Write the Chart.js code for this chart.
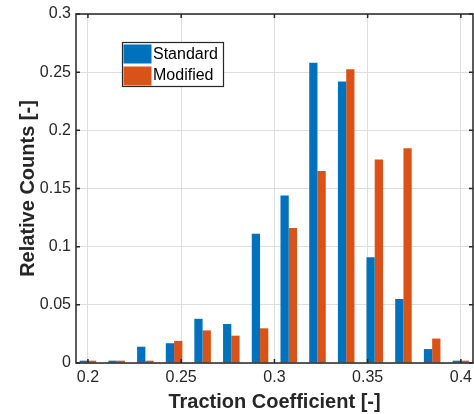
<!DOCTYPE html>
<html>
<head>
<meta charset="utf-8">
<script src="https://cdn.jsdelivr.net/npm/chart.js@4.4.1/dist/chart.umd.min.js"></script>
<style>
  html, body { margin: 0; padding: 0; background: #fff; }
  #wrap { position: relative; width: 474px; height: 414px; }
</style>
</head>
<body>
<div id="wrap"><canvas id="chart"></canvas></div>
<script>
// histogram bin centres (traction coefficient)
const binCenters = [0.2, 0.2154, 0.2308, 0.2462, 0.2615, 0.2769, 0.2923, 0.3077, 0.3231, 0.3385, 0.3538, 0.3692, 0.3846, 0.4];
const standardCounts = [0.002, 0.002, 0.014, 0.017, 0.038, 0.0335, 0.111, 0.144, 0.258, 0.242, 0.091, 0.055, 0.012, 0.002];
const modifiedCounts = [0.002, 0.002, 0.002, 0.019, 0.028, 0.0235, 0.0298, 0.116, 0.165, 0.2525, 0.175, 0.1845, 0.021, 0.002];
const seriesNames = ['Standard', 'Modified'];
const xTicks = [0.2, 0.25, 0.3, 0.35, 0.4];
const yTicks = [0, 0.05, 0.1, 0.15, 0.2, 0.25, 0.3];

const BLUE = '#0072BD';
const ORANGE = '#D95319';
const INK = '#262626';
const FONT = "'Liberation Sans', Arial, Helvetica, sans-serif";

// matlab style box, inward ticks and the boxed legend
const framePlugin = {
  id: 'frame',
  afterDatasetsDraw(chart) {
    const { ctx, chartArea: a, scales: { x, y } } = chart;
    ctx.save();
    ctx.strokeStyle = INK;
    ctx.lineWidth = 1.5;
    ctx.strokeRect(a.left, a.top, a.right - a.left, a.bottom - a.top);
    ctx.beginPath();
    xTicks.forEach(v => {
      const px = x.getPixelForValue(v);
      ctx.moveTo(px, a.bottom); ctx.lineTo(px, a.bottom - 4);
      ctx.moveTo(px, a.top); ctx.lineTo(px, a.top + 4);
    });
    yTicks.forEach(v => {
      const py = y.getPixelForValue(v);
      ctx.moveTo(a.left, py); ctx.lineTo(a.left + 4, py);
      ctx.moveTo(a.right, py); ctx.lineTo(a.right - 4, py);
    });
    ctx.stroke();

    // legend
    const lx = a.left + 46, ly = a.top + 28;
    ctx.fillStyle = '#fff';
    ctx.fillRect(lx, ly, 102, 45);
    ctx.lineWidth = 1.2;
    ctx.strokeRect(lx + 0.5, ly + 0.5, 101, 44);
    ctx.font = '16px ' + FONT;
    ctx.textBaseline = 'middle';
    chart.data.datasets.forEach((ds, i) => {
      ctx.fillStyle = ds.backgroundColor;
      ctx.fillRect(lx + 1.5, ly + 2.5 + i * 22, 28, 19);
      ctx.fillStyle = '#000';
      ctx.fillText(ds.label, lx + 31, ly + 12.5 + i * 21.5);
    });
    ctx.restore();
  }
};

new Chart(document.getElementById('chart'), {
  type: 'bar',
  data: {
    datasets: [
      { label: seriesNames[0], data: binCenters.map((c, i) => ({ x: c, y: standardCounts[i] })), backgroundColor: BLUE },
      { label: seriesNames[1], data: binCenters.map((c, i) => ({ x: c, y: modifiedCounts[i] })), backgroundColor: ORANGE }
    ]
  },
  options: {
    responsive: true,
    maintainAspectRatio: false,
    animation: false,
    layout: { padding: { top: 14, right: 1, left: 0, bottom: 0 } },
    datasets: { bar: { categoryPercentage: 0.58, barPercentage: 1 } },
    scales: {
      x: {
        type: 'linear',
        offset: false,
        min: 0.1936,
        max: 0.4065,
        afterBuildTicks: s => { s.ticks = xTicks.map(v => ({ value: v })); },
        afterFit: s => { s.height = 51; s.paddingLeft = 0; s.paddingRight = 0; },
        grid: { color: '#dedede', lineWidth: 1, drawTicks: false, offset: false },
        border: { display: false },
        ticks: { color: INK, font: { family: FONT, size: 16 }, padding: 5, maxRotation: 0, callback: v => String(v) },
        title: { display: true, text: 'Traction Coefficient [-]', color: INK, font: { family: FONT, size: 20, weight: 'bold' }, padding: { top: 0, bottom: 0 } }
      },
      y: {
        min: 0,
        max: 0.3,
        afterBuildTicks: s => { s.ticks = yTicks.map(v => ({ value: v })); },
        afterFit: s => { s.width = 76; s.paddingTop = 0; s.paddingBottom = 0; },
        grid: { color: '#dedede', lineWidth: 1, drawTicks: false },
        border: { display: false },
        ticks: { color: INK, font: { family: FONT, size: 16 }, padding: 5, callback: v => String(v) },
        title: { display: true, text: 'Relative Counts [-]', color: INK, font: { family: FONT, size: 20, weight: 'bold' }, padding: { top: 16, bottom: 0 } }
      }
    },
    plugins: {
      legend: { display: false },
      tooltip: { enabled: false }
    }
  },
  plugins: [framePlugin]
});
</script>
</body>
</html>
